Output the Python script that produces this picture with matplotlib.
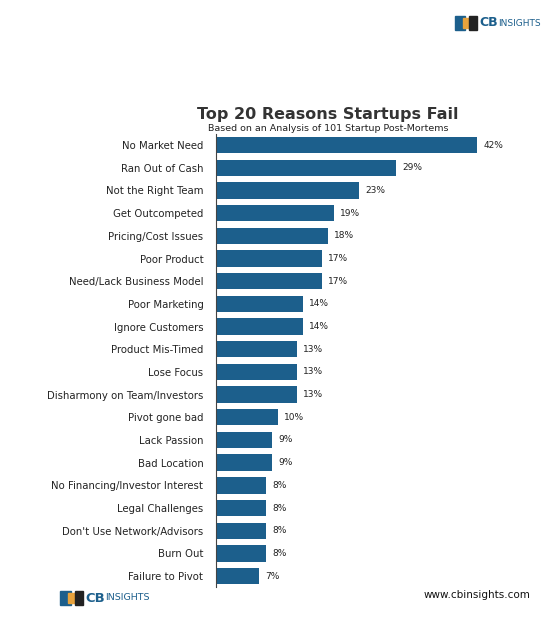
import matplotlib
matplotlib.use("Agg")
import matplotlib.pyplot as plt
from matplotlib.patches import Rectangle

reasons = ["No Market Need","Ran Out of Cash","Not the Right Team","Get Outcompeted",
           "Pricing/Cost Issues","Poor Product","Need/Lack Business Model","Poor Marketing",
           "Ignore Customers","Product Mis-Timed","Lose Focus","Disharmony on Team/Investors",
           "Pivot gone bad","Lack Passion","Bad Location","No Financing/Investor Interest",
           "Legal Challenges","Don't Use Network/Advisors","Burn Out","Failure to Pivot"]
values = [42,29,23,19,18,17,17,14,14,13,13,13,10,9,9,8,8,8,8,7]

color = "#1c5f8c"
fig = plt.figure(figsize=(5.49,6.34), dpi=100)
ax = fig.add_axes([0.3934, 0.0735, 0.566, 0.7155])
y = list(range(len(reasons)))
ax.barh(y, values, height=0.72, color=color)
ax.set_ylim(19.5, -0.5)
ax.set_xlim(0, 50)
ax.set_xticks([])
ax.set_yticks(y)
ax.set_yticklabels(reasons, fontsize=7.3, color="#222222")
ax.tick_params(axis="y", length=0, pad=9)
for s in ["top","right","bottom"]:
    ax.spines[s].set_visible(False)
ax.spines["left"].set_color("#444444")
ax.spines["left"].set_linewidth(0.8)
for yi, v in zip(y, values):
    ax.text(v+1.0, yi, f"{v}%", va="center", ha="left", fontsize=6.5, color="#222222")

fig.text(0.5975, 0.820, "Top 20 Reasons Startups Fail", ha="center", va="center",
         fontsize=11.5, fontweight="bold", color="#333333")
fig.text(0.5975, 0.797, "Based on an Analysis of 101 Startup Post-Mortems", ha="center",
         va="center", fontsize=6.8, color="#222222")

def logo(x, y, s):
    # x,y in pixels (left, center), s scale
    W, H = 549, 634
    fx = lambda px: px / W
    fy = lambda py: 1 - py / H
    fig.patches.append(Rectangle((fx(x), fy(y+7*s)), 10*s/W, 14*s/H, transform=fig.transFigure,
                                 color="#1c5f8c"))
    fig.patches.append(Rectangle((fx(x+8*s), fy(y+5*s)), 10*s/W, 10*s/H, transform=fig.transFigure,
                                 color="#e8a33d"))
    fig.patches.append(Rectangle((fx(x+14*s), fy(y+7*s)), 8*s/W, 14*s/H, transform=fig.transFigure,
                                 color="#222222"))
    fig.text(fx(x+24*s), fy(y), "CB", fontsize=9*s, fontweight="bold", color="#1c5f8c",
             va="center", ha="left")
    fig.text(fx(x+43*s), fy(y), "INSIGHTS", fontsize=6.5*s, color="#1c5f8c",
             va="center", ha="left")

logo(455, 23, 1.0)
logo(60, 598, 1.05)
fig.text(530/549, 1-595/634, "www.cbinsights.com", ha="right", va="center", fontsize=7.5,
         color="#111111")
fig.savefig("out.png", dpi=100, facecolor="white")
